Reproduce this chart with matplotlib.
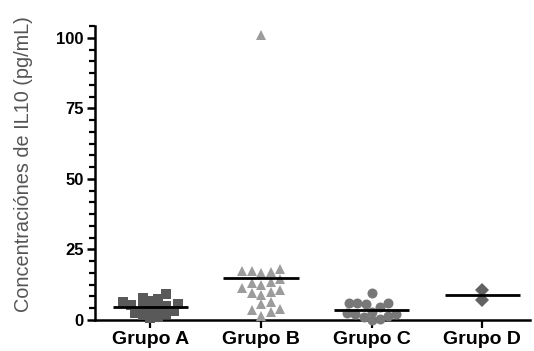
import numpy as np
import matplotlib
matplotlib.use("Agg")
import matplotlib.pyplot as plt
from matplotlib.ticker import MultipleLocator

groups = ["Grupo A", "Grupo B", "Grupo C", "Grupo D"]
grupo_a = [9.2, 7.8, 7.5, 6.8, 6.3, 5.8, 5.2, 5.0, 4.6, 4.0, 3.7, 3.2, 2.6, 2.2, 1.6, 1.2, 0.8]
grupo_b = [101, 18, 17.5, 17.5, 17, 16.5, 14.5, 13.5, 13, 12.5, 11.5, 10.5, 10, 9.5, 9,
           6.5, 5.5, 4, 3.5, 3, 1.5]
grupo_c = [9.5, 6, 6, 6, 5.5, 4.5, 3, 2.5, 2, 2, 1.5, 1, 0.5, 0]
grupo_d = [10.5, 7.2]
values = [grupo_a, grupo_b, grupo_c, grupo_d]

ylabel = "Concentraciónes de IL10 (pg/mL)"

markers = ["s", "^", "o", "D"]
colors = ["#595959", "#9c9c9c", "#787878", "#626262"]
msizes = [7.2, 7.6, 7.2, 6.8]
packing = [0.78, 0.9, 0.82, 0.8]

W, H, DPI = 534, 351, 100
fig = plt.figure(figsize=(W / DPI, H / DPI), dpi=DPI)
left, right, bottom, top = 95, 530, 320, 26
ax = fig.add_axes([left / W, 1 - bottom / H, (right - left) / W, (bottom - top) / H])
ax.set_xlim(-0.5, 3.43)
ax.set_ylim(0, 104.2)

# pixel scales for swarm layout
xscale = (right - left) / (3.43 + 0.5)
yscale = (bottom - top) / 104.2


def swarm(vals, diam):
    vals = np.asarray(vals, float)
    order = np.argsort(vals)
    placed = []
    offs = np.zeros(len(vals))
    step = diam * 0.25
    for i in order:
        y = vals[i] * yscale
        k = 0
        while True:
            cand = ((k + 1) // 2) * step * (1 if k % 2 else -1)
            ok = all((cand - px) ** 2 + (y - py) ** 2 >= diam ** 2 for px, py in placed)
            if ok:
                break
            k += 1
        placed.append((cand, y))
        offs[i] = cand / xscale
    return offs


for i, vals in enumerate(values):
    diam = msizes[i] * DPI / 72.0 * packing[i]
    offs = swarm(vals, diam)
    ax.plot(i + offs, vals, linestyle="none", marker=markers[i], markersize=msizes[i],
            color=colors[i], markeredgewidth=0, clip_on=False, zorder=3)
    m = np.mean(vals)
    ax.plot([i - 0.34, i + 0.34], [m, m], color="black", lw=2.0, zorder=4, solid_capstyle="butt")

for s in ["top", "right"]:
    ax.spines[s].set_visible(False)
for s in ["left", "bottom"]:
    ax.spines[s].set_linewidth(1.8)

ax.set_xticks(range(4))
ax.set_xticklabels(groups, fontsize=14, fontweight="bold", family="Liberation Sans")
ax.set_yticks([0, 25, 50, 75, 100])
ax.set_yticklabels(["0", "25", "50", "75", "100"], fontsize=12, fontweight="bold",
                   family="Liberation Sans")
ax.yaxis.set_minor_locator(MultipleLocator(25 / 6))
ax.tick_params(axis="y", which="major", length=6, width=1.8, pad=2)
ax.tick_params(axis="y", which="minor", length=4, width=1.6)
ax.tick_params(axis="x", which="major", length=6, width=1.6, pad=2)
ax.set_ylabel(ylabel, fontsize=14.3, color="#555555", family="Liberation Sans")
ax.yaxis.set_label_coords(-62 / (right - left), 0.53)

fig.savefig("out.png", dpi=DPI)
